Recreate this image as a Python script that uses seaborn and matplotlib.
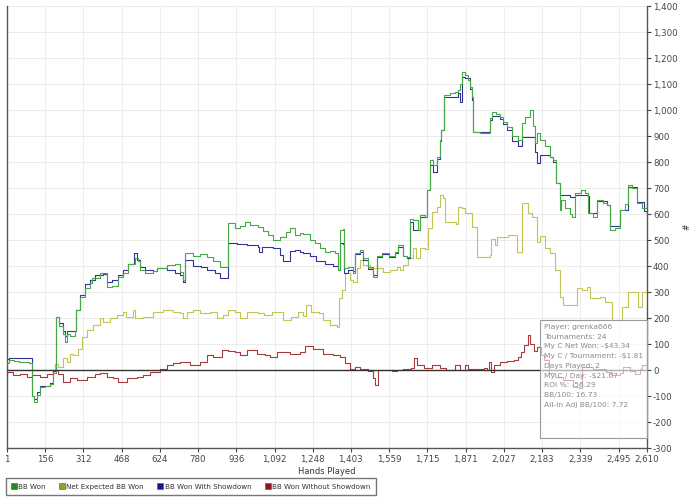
import matplotlib
matplotlib.use("Agg")
import matplotlib.pyplot as plt
from matplotlib.lines import Line2D
from matplotlib.patches import Rectangle
from matplotlib.ticker import StrMethodFormatter
import pandas as pd
import seaborn as sns

# séries (main jouée, valeur en BB)
bb_won = [(1, 27), (10, 38), (30, 35), (50, 30), (70, 33), (90, 28), (103, -100), (112, -123),
          (125, -95), (136, -65), (156, -62), (176, -55), (190, -10), (201, 205), (215, 170),
          (228, 140), (237, 109), (246, 140), (258, 130), (278, 150), (282, 230), (299, 282),
          (319, 314), (339, 335), (348, 353), (380, 372), (392, 375), (409, 320), (430, 325),
          (454, 359), (474, 373), (494, 410), (523, 430), (535, 418), (543, 385), (564, 372),
          (596, 380), (613, 392), (653, 404), (686, 410), (706, 378), (719, 346), (727, 449),
          (760, 440), (790, 445), (816, 436), (840, 420), (869, 397), (902, 564), (931, 545),
          (951, 555), (971, 570), (992, 560), (1024, 551), (1045, 535), (1065, 520), (1085, 500),
          (1114, 513), (1140, 530), (1155, 545), (1175, 520), (1196, 526), (1208, 525),
          (1236, 500), (1257, 490), (1277, 470), (1298, 455), (1318, 460), (1338, 450),
          (1350, 385), (1359, 538), (1371, 541), (1375, 391), (1390, 397), (1412, 372),
          (1420, 449), (1440, 462), (1452, 430), (1473, 397), (1493, 359), (1510, 440),
          (1530, 449), (1560, 440), (1583, 455), (1595, 481), (1616, 440), (1632, 436),
          (1644, 583), (1656, 577), (1677, 538), (1685, 596), (1705, 590), (1713, 692),
          (1726, 808), (1738, 790), (1754, 820), (1766, 885), (1772, 923), (1783, 1058),
          (1807, 1065), (1827, 1070), (1840, 1077), (1848, 1100), (1856, 1147), (1868, 1135),
          (1880, 1115), (1888, 1090), (1897, 1050), (1901, 917), (1930, 912), (1970, 968),
          (1980, 994), (1995, 985), (2011, 975), (2025, 955), (2039, 935), (2060, 900),
          (2084, 885), (2101, 949), (2115, 975), (2133, 1000), (2145, 940), (2154, 872),
          (2162, 910), (2174, 885), (2194, 860), (2215, 820), (2227, 808), (2240, 720),
          (2256, 615), (2262, 654), (2276, 625), (2296, 600), (2305, 590), (2317, 681),
          (2340, 692), (2358, 680), (2370, 603), (2390, 590), (2406, 654), (2430, 641),
          (2447, 635), (2459, 540), (2480, 545), (2500, 615), (2520, 640), (2533, 711),
          (2550, 700), (2569, 641), (2590, 625), (2610, 630)]

net_expected = [(1, 0), (188, 0), (195, 25), (210, 12), (230, 45), (246, 32), (258, 64), (270, 58),
                (290, 83), (307, 128), (327, 154), (352, 173), (380, 199), (392, 186), (421, 199),
                (450, 212), (474, 224), (485, 205), (513, 231), (523, 199), (555, 205), (596, 224),
                (636, 233), (678, 224), (706, 218), (719, 199), (735, 224), (760, 231), (790, 218),
                (829, 224), (857, 199), (880, 212), (902, 231), (930, 222), (951, 199), (980, 224),
                (1024, 218), (1050, 212), (1080, 222), (1106, 224), (1126, 192), (1159, 205),
                (1188, 224), (1208, 210), (1220, 250), (1240, 224), (1273, 218), (1290, 192),
                (1318, 173), (1345, 167), (1355, 276), (1367, 308), (1379, 372), (1399, 346),
                (1412, 340), (1428, 391), (1440, 423), (1452, 404), (1481, 391), (1510, 391),
                (1534, 378), (1563, 385), (1591, 397), (1603, 385), (1616, 404), (1636, 430),
                (1656, 468), (1668, 430), (1685, 468), (1705, 465), (1717, 545), (1734, 609),
                (1754, 628), (1766, 673), (1778, 660), (1786, 570), (1830, 563), (1840, 628),
                (1856, 625), (1868, 603), (1897, 551), (1917, 436), (1970, 442), (1975, 506),
                (1991, 481), (2000, 513), (2043, 519), (2080, 455), (2101, 641), (2125, 603),
                (2141, 590), (2162, 494), (2174, 515), (2194, 470), (2215, 449), (2235, 385),
                (2256, 282), (2268, 250), (2309, 250), (2325, 314), (2345, 308), (2366, 321),
                (2378, 276), (2419, 282), (2439, 263), (2455, 263), (2467, 192), (2500, 192),
                (2508, 244), (2533, 301), (2561, 301), (2573, 244), (2590, 301), (2610, 308)]

bb_showdown = [(1, 42), (10, 45), (95, 45), (103, -100), (112, -110), (125, -85), (136, -60),
               (176, -50), (190, -5), (201, 206), (215, 180), (228, 150), (237, 130), (246, 150),
               (278, 150), (282, 230), (299, 290), (319, 330), (339, 345), (360, 365), (392, 370),
               (409, 340), (430, 345), (454, 365), (474, 385), (494, 410), (518, 449), (530, 425),
               (543, 395), (564, 385), (596, 380), (613, 392), (653, 385), (686, 372), (706, 365),
               (719, 340), (727, 423), (760, 400), (793, 397), (816, 385), (849, 372), (869, 353),
               (902, 487), (940, 485), (980, 480), (1024, 474), (1030, 455), (1040, 474),
               (1085, 470), (1114, 442), (1126, 420), (1155, 460), (1175, 462), (1196, 455),
               (1208, 449), (1236, 440), (1260, 420), (1298, 410), (1330, 400), (1350, 385),
               (1359, 487), (1371, 485), (1375, 372), (1390, 385), (1412, 380), (1420, 445),
               (1440, 455), (1452, 425), (1473, 390), (1493, 365), (1510, 435), (1530, 445),
               (1560, 435), (1583, 450), (1595, 475), (1616, 440), (1632, 430), (1644, 570),
               (1656, 540), (1677, 540), (1685, 590), (1713, 692), (1726, 790), (1738, 763),
               (1754, 810), (1766, 880), (1772, 923), (1783, 1050), (1840, 1065), (1848, 1032),
               (1856, 1128), (1868, 1125), (1888, 1080), (1897, 1040), (1901, 915), (1970, 960),
               (1980, 978), (2011, 965), (2025, 945), (2039, 925), (2060, 880), (2084, 860),
               (2101, 897), (2145, 897), (2154, 840), (2162, 795), (2174, 827), (2215, 820),
               (2227, 800), (2240, 720), (2256, 673), (2296, 667), (2317, 675), (2370, 670),
               (2375, 603), (2406, 650), (2447, 635), (2459, 555), (2500, 615), (2533, 705),
               (2569, 645), (2600, 610), (2610, 600)]

bb_no_showdown = [(1, -6), (25, -19), (54, -13), (82, -26), (103, -19), (136, -26), (164, -13),
                  (188, 0), (209, -13), (229, -45), (258, -32), (286, -38), (327, -26), (360, -13),
                  (380, -10), (409, -26), (433, -32), (454, -45), (490, -32), (531, -26), (555, -19),
                  (584, -6), (625, 6), (653, 19), (678, 26), (706, 32), (747, 21), (788, 32),
                  (816, 58), (840, 52), (877, 77), (902, 75), (931, 70), (951, 58), (980, 77),
                  (1020, 64), (1053, 58), (1075, 51), (1102, 71), (1155, 64), (1196, 70),
                  (1216, 92), (1249, 83), (1290, 64), (1330, 58), (1359, 51), (1379, 26),
                  (1399, 6), (1420, 13), (1440, 3), (1473, -5), (1493, -32), (1501, -58),
                  (1514, 0), (1540, 2), (1570, -2), (1591, 0), (1616, 6), (1649, 10), (1661, 45),
                  (1673, 19), (1700, 8), (1735, 19), (1766, 8), (1790, 0), (1827, 19), (1850, 0),
                  (1868, 19), (1880, 5), (1917, 6), (1945, 10), (1960, 2), (1968, 30), (1974, -8),
                  (1985, 20), (2010, 30), (2040, 35), (2070, 40), (2085, 50), (2095, 70),
                  (2110, 95), (2125, 135), (2135, 100), (2150, 75), (2162, 90), (2178, 60),
                  (2190, 38), (2210, -10), (2235, -26), (2270, -38), (2310, -64), (2335, -70),
                  (2345, 13), (2390, 6), (2445, -6), (2470, -19), (2500, -10), (2512, 13),
                  (2541, -5), (2561, -13), (2582, 6), (2590, 20), (2610, 22)]

series_names = ["BB Won", "Net Expected BB Won", "BB Won With Showdown", "BB Won Without Showdown"]
line_colors = ["#45aa45", "#c4c452", "#33339a", "#a83a3a"]
legend_colors = ["#1f8a1f", "#9c9c2c", "#15158a", "#8a1a1a"]

x_ticks = [1, 156, 312, 468, 624, 780, 936, 1092, 1248, 1403, 1559, 1715, 1871, 2027, 2183, 2339, 2495, 2610]

stats = ["Player: grenka666", "Tournaments: 24", "My C Net Won: -\\$43.34",
         "My C / Tournament: -\\$1.81", "Days Played: 2", "My C / Day: -\\$21.67",
         "ROI %: -56.29", "BB/100: 16.73", "All-In Adj BB/100: 7.72"]

sns.set_style("whitegrid")
plt.rcParams["font.family"] = ["DejaVu Sans"]
plt.rcParams["axes.unicode_minus"] = False

fig = plt.figure(figsize=(7, 5.03), dpi=100)
ax = fig.add_axes([0.01, 0.109, 0.914, 0.879])

for name, data, col in zip(series_names, [bb_won, net_expected, bb_showdown, bb_no_showdown], line_colors):
    df = pd.DataFrame(data, columns=["hand", "value"])
    sns.lineplot(data=df, x="hand", y="value", estimator=None, sort=False, color=col,
                 lw=0.8, drawstyle="steps-post", ax=ax, legend=False)

# BB Won passe au-dessus, comme dans l'original
ax.lines[0].set_zorder(3)
ax.axhline(0, color="#333333", lw=1, zorder=4)

ax.tick_params(axis="both", labelsize=6.2, colors="#444444", length=3, width=0.8, pad=1.5,
               direction="out")
ax.tick_params(axis="x", bottom=True, pad=2)
ax.tick_params(axis="y", right=True, left=False)

ax.set_xlim(1, 2610)
ax.set_ylim(-300, 1400)
ax.set_xticks(x_ticks)
ax.set_xticklabels([f"{t:,}" for t in x_ticks])
ax.set_yticks(range(-300, 1401, 100))
ax.yaxis.set_major_formatter(StrMethodFormatter("{x:,.0f}"))
ax.yaxis.tick_right()
ax.yaxis.set_label_position("right")
ax.set_xlabel("Hands Played", fontsize=6, color="#333333", labelpad=2)
ax.set_ylabel("#", fontsize=5.5, color="#333333", rotation=90, labelpad=0)
ax.yaxis.set_label_coords(1.056, 0.5)
ax.grid(True, color="#ececec", lw=0.7)
for side in ["left", "bottom", "right"]:
    ax.spines[side].set_visible(True)
    ax.spines[side].set_color("#555555")
    ax.spines[side].set_linewidth(1)
ax.spines["top"].set_visible(False)

# encadré des stats (semi-transparent)
ax.add_patch(Rectangle((0.833, 0.0226), 0.167, 0.267, transform=ax.transAxes,
                       facecolor=(1, 1, 1, 0.6), edgecolor="#9a9a9a", lw=0.8, zorder=6, clip_on=False))
ax.text(0.839, 0.281, "\n".join(stats), transform=ax.transAxes, va="top", ha="left",
        fontsize=5.4, color="#8a8a8a", linespacing=1.75, zorder=7)

handles = [Line2D([], [], marker="s", ls="", markersize=4.5, markerfacecolor=c,
                  markeredgecolor="#666666", markeredgewidth=0.5) for c in legend_colors]
fig.legend(handles, series_names, loc="lower left", bbox_to_anchor=(0.003, 0.008), ncol=4,
           frameon=True, fancybox=False, edgecolor="#555555", fontsize=5.1, handletextpad=0.2,
           columnspacing=1.9, borderpad=0.8, handlelength=0.8, labelcolor="#333333")

fig.savefig("out.png", dpi=100)
